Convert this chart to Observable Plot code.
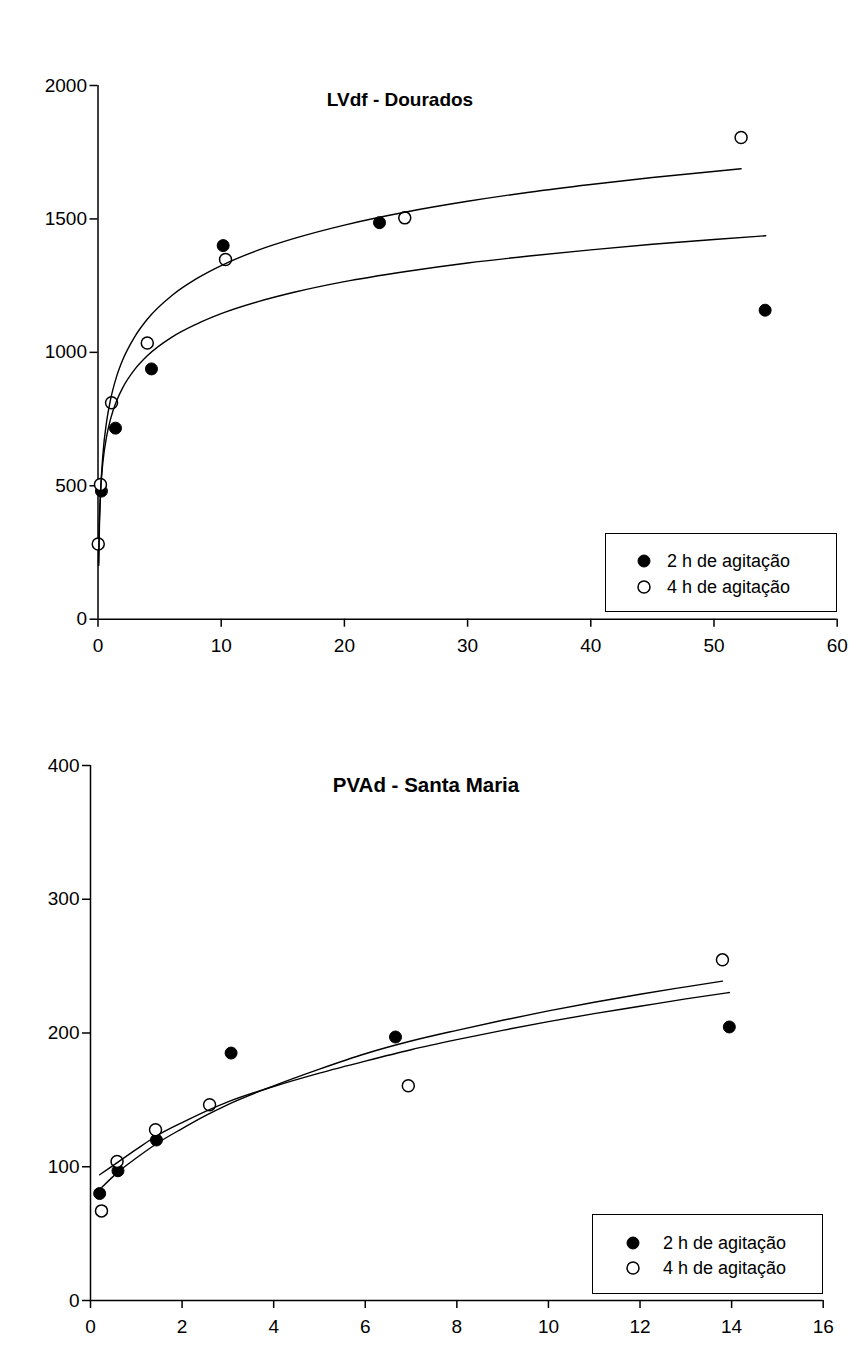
<!DOCTYPE html>
<html><head><meta charset="utf-8">
<script src="https://cdn.jsdelivr.net/npm/d3@7"></script>
<script src="https://cdn.jsdelivr.net/npm/@observablehq/plot@0.6"></script>
<style>
body{margin:0;background:#fff;font-family:Arial,"Liberation Sans",sans-serif;color:#000;}
#wrap{position:relative;width:861px;height:1346px;overflow:hidden;}
.chart{position:absolute;left:0;}
.title{position:absolute;font-weight:bold;transform:translate(-50%,-50%);white-space:nowrap;}
.legend{position:absolute;border:1.5px solid #000;box-sizing:border-box;font-size:18px;background:#fff;}
.legend svg{position:absolute;left:0;top:0;}
.legend .lab{position:absolute;white-space:nowrap;transform:translateY(-50%);}
</style>
</head><body>
<div id="wrap"></div>
<script>
// ---------- LVdf - Dourados ----------
const lvTitle = "LVdf - Dourados";
const lvXTicks = [0, 10, 20, 30, 40, 50, 60];
const lvYTicks = [0, 500, 1000, 1500, 2000];
const lvX2h = [0.28, 1.42, 4.34, 10.16, 22.85, 54.15];
const lvY2h = [480, 716, 938, 1400, 1486, 1158];
const lvX4h = [0.02, 0.2, 1.1, 4.0, 10.35, 24.9, 52.2];
const lvY4h = [282, 505, 811, 1035, 1348, 1504, 1805];
// fitted curves
const lvCurveX2h = [0.045, 0.1, 0.2, 0.4, 0.7, 1, 1.5, 2, 3, 4, 6, 8, 10, 13, 16, 20, 25, 30, 35, 40, 45, 50, 54.2];
const lvCurveY2h = [211, 349, 469, 589, 685, 747, 817, 867, 937, 987, 1057, 1106, 1145, 1190, 1226, 1265, 1303, 1335, 1361, 1384, 1405, 1423, 1437];
const lvCurveX4h = [0.06, 0.1, 0.2, 0.4, 0.7, 1, 1.5, 2, 3, 4, 6, 8, 10, 13, 16, 20, 25, 30, 35, 40, 45, 52.2];
const lvCurveY4h = [201, 313, 465, 618, 741, 819, 908, 971, 1060, 1124, 1213, 1276, 1325, 1383, 1428, 1477, 1526, 1566, 1600, 1629, 1655, 1688];

// ---------- PVAd - Santa Maria ----------
const pvTitle = "PVAd - Santa Maria";
const pvXTicks = [0, 2, 4, 6, 8, 10, 12, 14, 16];
const pvYTicks = [0, 100, 200, 300, 400];
const pvX2h = [0.2, 0.6, 1.44, 3.07, 6.66, 13.95];
const pvY2h = [80, 97, 120, 185, 197, 204.5];
const pvX4h = [0.24, 0.58, 1.42, 2.6, 6.94, 13.8];
const pvY4h = [67, 104, 127.6, 146.3, 160.6, 254.7];
const pvCurveX2h = [0.2, 0.6, 1, 1.44, 2, 2.55, 3, 4, 5, 6, 7, 8, 9, 10, 11, 12, 13, 13.95];
const pvCurveY2h = [94, 103.5, 113, 123, 133, 142, 148.5, 160, 170, 179, 187.5, 195, 202, 208.5, 214.5, 220, 225.5, 230.3];
const pvCurveX4h = [0.25, 0.6, 1, 1.5, 2, 2.5, 3, 4, 5, 6, 7, 8, 9, 10, 11, 12, 13, 13.8];
const pvCurveY4h = [84.7, 96, 106.5, 118.5, 128.5, 138, 146.5, 160.5, 173, 184.5, 194, 202, 209.5, 216.5, 223, 229, 234.5, 238.8];

const legendLabels = ["2 h de agitação", "4 h de agitação"];

const zipXY = (xs, ys) => xs.map((x, i) => ({x, y: ys[i]}));
const FONT = "Arial, 'Liberation Sans', sans-serif";
const fmt = d3.format("d");

function makeChart(o) {
  return Plot.plot({
    width: 861, height: o.height,
    marginLeft: o.ml, marginRight: o.mr, marginTop: o.mt, marginBottom: o.mb,
    x: {domain: o.xDomain},
    y: {domain: o.yDomain},
    style: {fontSize: "19px", fontFamily: FONT, color: "#000", background: "transparent", overflow: "visible"},
    marks: [
      Plot.axisX(o.xTicks, {tickSize: 8, tickPadding: 11, strokeWidth: 1.5, label: null, tickFormat: fmt}),
      Plot.axisY(o.yTicks, {tickSize: 8, tickPadding: 3, strokeWidth: 1.5, label: null, tickFormat: fmt}),
      Plot.ruleX([0], {stroke: "#000", strokeWidth: 1.5}),
      Plot.ruleY([0], {stroke: "#000", strokeWidth: 1.5}),
      Plot.dot(zipXY(o.x2h, o.y2h), {x: "x", y: "y", r: 6, fill: "#000", stroke: "#000", strokeWidth: 1}),
      Plot.dot(zipXY(o.x4h, o.y4h), {x: "x", y: "y", r: 6, fill: "#fff", stroke: "#000", strokeWidth: 1.5}),
      Plot.line(zipXY(o.cx2h, o.cy2h), {x: "x", y: "y", stroke: "#000", strokeWidth: 1.4, curve: "monotone-x"}),
      Plot.line(zipXY(o.cx4h, o.cy4h), {x: "x", y: "y", stroke: "#000", strokeWidth: 1.4, curve: "monotone-x"})
    ]
  });
}

const wrap = document.getElementById("wrap");

function addChart(o) {
  const svg = makeChart(o);
  svg.classList.add("chart");
  svg.style.top = o.top + "px";
  wrap.appendChild(svg);
  const t = document.createElement("div");
  t.className = "title";
  t.textContent = o.title;
  t.style.left = o.titleX + "px";
  t.style.top = o.titleY + "px";
  t.style.fontSize = o.titleSize + "px";
  wrap.appendChild(t);
  const lg = document.createElement("div");
  lg.className = "legend";
  Object.assign(lg.style, {left: o.lg.left + "px", top: o.lg.top + "px", width: o.lg.w + "px", height: o.lg.h + "px"});
  const ns = "http://www.w3.org/2000/svg";
  const s = document.createElementNS(ns, "svg");
  s.setAttribute("width", o.lg.w); s.setAttribute("height", o.lg.h);
  legendLabels.forEach((lab, i) => {
    const c = document.createElementNS(ns, "circle");
    c.setAttribute("cx", o.lg.mx); c.setAttribute("cy", o.lg.my[i]); c.setAttribute("r", 6);
    c.setAttribute("fill", i === 0 ? "#000" : "#fff");
    c.setAttribute("stroke", "#000"); c.setAttribute("stroke-width", i === 0 ? 1 : 1.5);
    s.appendChild(c);
    const d = document.createElement("div");
    d.className = "lab"; d.textContent = lab;
    d.style.left = o.lg.tx + "px"; d.style.top = o.lg.my[i] + "px";
    lg.appendChild(d);
  });
  lg.insertBefore(s, lg.firstChild);
  wrap.appendChild(lg);
}

addChart({
  top: 0, height: 680, ml: 97.5, mr: 24.3, mt: 85, mb: 61.3,
  xDomain: [0, 60], yDomain: [0, 2000], xTicks: lvXTicks, yTicks: lvYTicks,
  x2h: lvX2h, y2h: lvY2h, x4h: lvX4h, y4h: lvY4h,
  cx2h: lvCurveX2h, cy2h: lvCurveY2h, cx4h: lvCurveX4h, cy4h: lvCurveY4h,
  title: lvTitle, titleX: 400, titleY: 100, titleSize: 19,
  lg: {left: 605, top: 533, w: 232, h: 79, mx: 38, my: [27, 53], tx: 61}
});

addChart({
  top: 680, height: 666, ml: 90, mr: 38.3, mt: 85, mb: 46,
  xDomain: [0, 16], yDomain: [0, 400], xTicks: pvXTicks, yTicks: pvYTicks,
  x2h: pvX2h, y2h: pvY2h, x4h: pvX4h, y4h: pvY4h,
  cx2h: pvCurveX2h, cy2h: pvCurveY2h, cx4h: pvCurveX4h, cy4h: pvCurveY4h,
  title: pvTitle, titleX: 426, titleY: 785, titleSize: 20.5,
  lg: {left: 592, top: 1214, w: 231, h: 80, mx: 40, my: [28, 53], tx: 70}
});
</script>
</body></html>
